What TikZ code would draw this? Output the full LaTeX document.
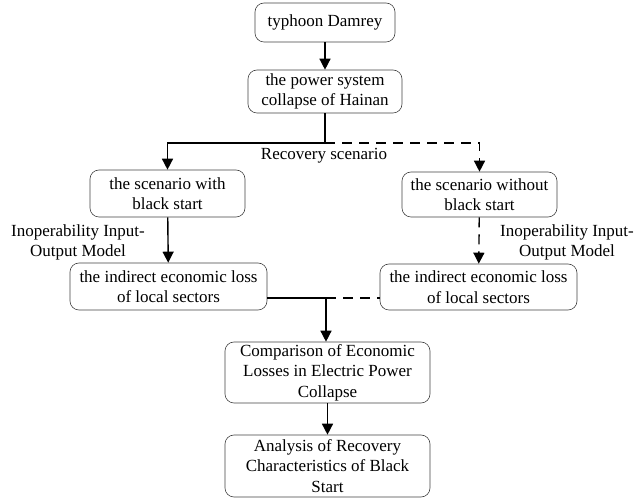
\documentclass[tikz,border=0pt]{standalone}
\usepackage{fontspec}
\setmainfont{Liberation Serif}
\usetikzlibrary{arrows.meta,calc}
\begin{document}
\begin{tikzpicture}[x=1pt,y=-1pt,
  box/.style={draw=black!75,line width=0.6pt,rounded corners=9pt,align=center,inner sep=0pt,
    font=\fontsize{17}{20.5}\selectfont},
  conn/.style={line width=1.4pt,-{Triangle[length=11pt,width=11pt]}},
  link/.style={line width=1.4pt},
  dsh/.style={dash pattern=on 10pt off 7pt},
  lab/.style={align=center,font=\fontsize{17}{20}\selectfont,inner sep=0pt}]
\useasboundingbox (0,0) rectangle (638,502);
\node[box,minimum width=140pt,minimum height=39pt] (b1) at (325,22.5) {typhoon Damrey};
\node[box,minimum width=154pt,minimum height=43pt] (b2) at (325,91.5) {the power system\\collapse of Hainan};
\node[box,minimum width=155pt,minimum height=47pt] (b3) at (167.5,193.5) {the scenario with\\black start};
\node[box,minimum width=155pt,minimum height=45pt] (b4) at (479.5,194.5) {the scenario without\\black start};
\node[box,minimum width=197pt,minimum height=47pt] (b5) at (168.5,286.5) {the indirect economic loss\\of local sectors};
\node[box,minimum width=197pt,minimum height=46pt] (b6) at (478.5,287) {the indirect economic loss\\of local sectors};
\node[box,minimum width=205pt,minimum height=61pt] (b7) at (327.5,372.5) {Comparison of Economic\\Losses in Electric Power\\Collapse};
\node[box,minimum width=205pt,minimum height=62pt] (b8) at (327.5,466) {Analysis of Recovery\\Characteristics of Black\\Start};
\coordinate (split) at (325,143);
\coordinate (merge) at (326,298);
\node[lab] (l1) at (324,156) {Recovery scenario};
\node[lab] (l2) at (78,242) {Inoperability Input-\\Output Model};
\node[lab] (l3) at (567,242) {Inoperability Input-\\Output Model};
\draw[conn] (b1) -- (b2);
\draw[link] (b2.south) -- (split);
\draw[conn] (split) -| (b3.north);
\draw[conn,dsh] (split) -| (b4.north);
\draw[conn] (b3) -- (b5);
\draw[conn,dsh] (b4) -- (b6);
\draw[link] (merge -| b5.east) -- (merge);
\draw[link,dsh] (merge) -- (merge -| b6.west);
\draw[conn] (merge) -- (merge |- b7.north);
\draw[conn] (b7) -- (b8);
\end{tikzpicture}
\end{document}
